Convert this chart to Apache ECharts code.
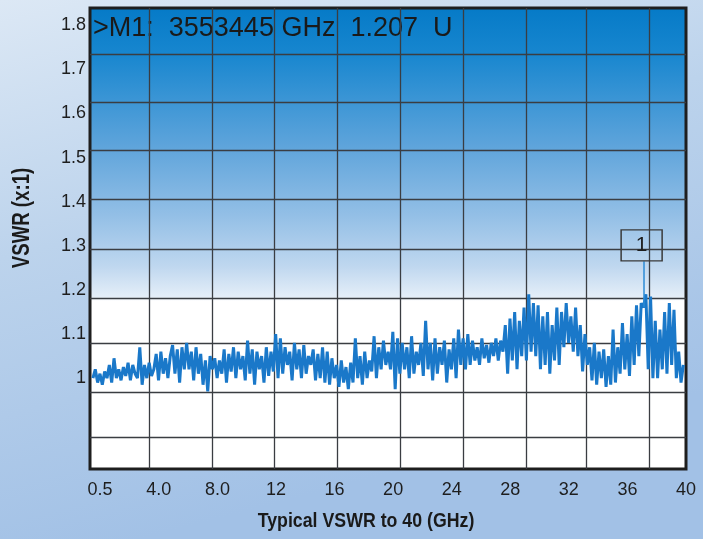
<!DOCTYPE html>
<html>
<head>
<meta charset="utf-8">
<script src="https://cdn.jsdelivr.net/npm/echarts@6/dist/echarts.min.js"></script>
<style>html,body{margin:0;padding:0;background:#c8daee;}#c{width:703px;height:539px;}</style>
</head>
<body>
<div id="c"></div>
<script>
// ---- data ----
const yTickLabels = [1, 1.1, 1.2, 1.3, 1.4, 1.5, 1.6, 1.7, 1.8];
const xTickLabels = [0.5, 4, 8, 12, 16, 20, 24, 28, 32, 36, 40];
const yGridLevels = [0.8663, 0.9683, 1.0793, 1.1813, 1.2924, 1.4057, 1.5167, 1.6255, 1.7343];
const xGridLevels = [3.327, 7.631, 11.867, 16.171, 20.475, 24.779, 29.083, 33.182, 37.486];
const sweepStart = -0.5;   // GHz, first sample of the sweep
const sweepStep = 0.16;    // GHz between samples
const vswr = [
  1.00, 1.02, 0.99, 1.01, 0.985, 1.015, 1.00, 1.03, 0.99, 1.045, 1.00, 1.02, 0.995, 1.025, 1.005, 1.035, 0.995, 1.03, 1.01, 1.00,
  1.07, 0.985, 1.03, 1.00, 1.035, 1.005, 1.02, 1.055, 0.995, 1.06, 1.01, 1.045, 1.00, 1.05, 1.075, 1.01, 1.065, 0.99, 1.07, 1.02,
  1.08, 1.02, 1.06, 0.995, 1.07, 1.01, 1.055, 0.985, 1.04, 0.97, 1.05, 1.02, 1.045, 1.00, 1.04, 1.01, 1.065, 0.99, 1.055, 1.015,
  1.07, 1.00, 1.06, 1.02, 1.05, 0.995, 1.085, 1.01, 1.065, 0.985, 1.06, 1.02, 1.05, 0.99, 1.07, 1.005, 1.06, 1.015, 1.10, 1.00,
  1.09, 1.01, 1.07, 1.03, 1.06, 0.995, 1.08, 1.02, 1.065, 1.00, 1.075, 1.01, 1.05, 1.03, 1.065, 0.995, 1.055, 1.00, 1.07, 0.99,
  1.06, 0.985, 1.045, 1.00, 1.03, 0.98, 1.04, 0.99, 1.025, 0.975, 1.035, 0.99, 1.09, 1.00, 1.05, 0.985, 1.06, 1.00, 1.04, 1.015,
  1.095, 1.00, 1.07, 1.02, 1.085, 1.03, 1.06, 1.02, 1.105, 0.975, 1.09, 1.01, 1.08, 1.02, 1.07, 1.00, 1.095, 1.01, 1.06, 1.03,
  1.08, 1.005, 1.13, 1.02, 1.08, 0.995, 1.09, 1.01, 1.07, 1.03, 1.085, 0.99, 1.065, 1.02, 1.09, 1.00, 1.11, 1.03, 1.09, 1.02,
  1.10, 1.03, 1.085, 1.04, 1.07, 1.03, 1.09, 1.045, 1.075, 1.035, 1.08, 1.05, 1.09, 1.04, 1.085, 1.06, 1.12, 1.01, 1.135, 1.04,
  1.15, 1.02, 1.13, 1.05, 1.16, 1.04, 1.19, 1.06, 1.17, 1.05, 1.165, 1.02, 1.14, 1.03, 1.15, 1.01, 1.12, 1.04, 1.16, 1.03,
  1.15, 1.07, 1.17, 1.08, 1.14, 1.06, 1.16, 1.05, 1.12, 1.015, 1.10, 1.03, 1.07, 0.995, 1.08, 0.985, 1.06, 1.00, 1.065, 0.98,
  1.05, 0.985, 1.11, 0.99, 1.07, 1.01, 1.125, 1.02, 1.10, 1.005, 1.14, 1.03, 1.165, 1.05, 1.17, 1.16, 1.19, 1.02, 1.185, 1.00,
  1.13, 1.00, 1.11, 1.02, 1.15, 1.01, 1.17, 1.03, 1.155, 1.00, 1.06, 0.99, 1.03
];
const markerFreq = 37.1;
const markerValue = 1.16;
const markerBoxFreq = 36.97;
const markerBoxValue = 1.301;
const markerBoxBottom = 1.265;
const markerText = '>M1:  3553445 GHz  1.207  U';
const xTitle = 'Typical VSWR to 40 (GHz)';
const yTitle = 'VSWR (x:1)';
const xMin = -0.7, xMax = 40;
const yMin = 0.794, yMax = 1.839;

// ---- chart ----
const points = vswr.map((v, i) => [sweepStart + i * sweepStep, v]);
const chart = echarts.init(document.getElementById('c'), null, {renderer: 'canvas'});
const labelFont = 'Liberation Sans, Arial, sans-serif';

chart.setOption({
  animation: false,
  backgroundColor: {
    type: 'linear', x: 0, y: 0, x2: 0.2, y2: 1,
    colorStops: [
      {offset: 0, color: '#dce8f5'},
      {offset: 0.45, color: '#bcd3ec'},
      {offset: 1, color: '#a2c1e6'}
    ]
  },
  grid: {
    left: 90, right: 17, top: 8, bottom: 70,
    show: true,
    borderColor: '#1e1e1e',
    borderWidth: 3,
    backgroundColor: {
      type: 'linear', x: 0, y: 0, x2: 0, y2: 1,
      colorStops: [
        {offset: 0, color: '#057ac7'},
        {offset: 0.1, color: '#1786cf'},
        {offset: 0.3, color: '#5ea4db'},
        {offset: 0.45, color: '#93bfe6'},
        {offset: 0.56, color: '#bfd7ef'},
        {offset: 0.625, color: '#e4eef8'},
        {offset: 0.635, color: '#ffffff'},
        {offset: 1, color: '#ffffff'}
      ]
    }
  },
  xAxis: {
    type: 'value',
    min: xMin, max: xMax,
    axisLine: {show: false},
    axisTick: {show: false, customValues: xGridLevels},
    splitLine: {show: true, lineStyle: {color: '#3a3d42', width: 1.3}},
    axisLabel: {
      customValues: xTickLabels,
      margin: 12,
      color: '#1e1e1e',
      fontFamily: labelFont,
      fontSize: 18,
      formatter: function (v) {
        if (v === 0.5) return '{s|0.5}';
        if (v === 4 || v === 8) return v.toFixed(1);
        return String(v);
      },
      rich: {s: {fontFamily: labelFont, fontSize: 18, color: '#1e1e1e', padding: [0, 15, 0, 0]}}
    }
  },
  yAxis: {
    type: 'value',
    min: yMin, max: yMax,
    axisLine: {show: false},
    axisTick: {show: false, customValues: yGridLevels},
    splitLine: {show: true, lineStyle: {color: '#3a3d42', width: 1.3}},
    axisLabel: {
      customValues: yTickLabels,
      margin: 4,
      color: '#1e1e1e',
      fontFamily: labelFont,
      fontSize: 18,
      formatter: function (v) { return String(v); }
    }
  },
  series: [{
    type: 'line',
    data: points,
    showSymbol: false,
    clip: true,
    lineStyle: {color: '#1a78c9', width: 3},
    markLine: {
      silent: true,
      symbol: 'none',
      label: {show: false},
      lineStyle: {color: '#2d8bd6', width: 1.5, type: 'solid'},
      data: [[{coord: [markerFreq, markerBoxBottom]}, {coord: [markerFreq, markerValue]}]]
    },
    markPoint: {
      silent: true,
      symbol: 'rect',
      symbolSize: [41, 31],
      itemStyle: {color: 'rgba(0,0,0,0)', borderColor: '#3a3a3a', borderWidth: 1.3},
      label: {show: true, position: 'inside', formatter: '1', color: '#1e1e1e', fontFamily: labelFont, fontSize: 21},
      data: [{coord: [markerBoxFreq, markerBoxValue]}]
    }
  }],
  graphic: [
    {
      type: 'text', left: 93, top: 15,
      style: {text: markerText, fontFamily: labelFont, fontSize: 27, fill: '#1a1a1a'}
    },
    {
      type: 'text', x: 366, y: 521, scaleX: 0.845,
      style: {text: xTitle, fontFamily: labelFont, fontWeight: 'bold', fontSize: 21, fill: '#1a1a1a', align: 'center', verticalAlign: 'middle'}
    },
    {
      type: 'text', x: 23, y: 218, rotation: Math.PI / 2, scaleX: 0.81,
      style: {text: yTitle, fontFamily: labelFont, fontWeight: 'bold', fontSize: 23, fill: '#1a1a1a', align: 'center', verticalAlign: 'middle'}
    }
  ]
});
</script>
</body>
</html>
